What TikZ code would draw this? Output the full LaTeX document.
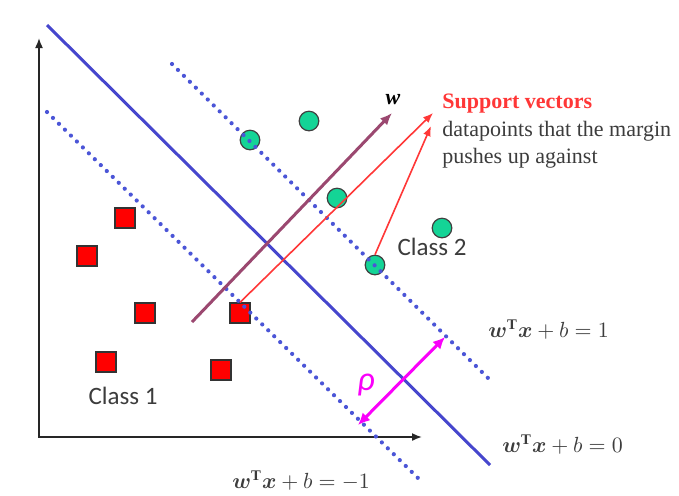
\documentclass[tikz,border=0pt]{standalone}
\usepackage{fontspec}
\usepackage{bm}
\setmainfont{Liberation Serif}
\newfontfamily\calibrifont{Carlito}
\usetikzlibrary{arrows.meta, positioning}

\definecolor{planeblue}{RGB}{70,70,205}
\definecolor{dotblue}{RGB}{75,85,215}
\definecolor{classtwogreen}{RGB}{20,212,150}
\definecolor{wpurple}{RGB}{155,72,112}
\definecolor{svred}{RGB}{255,55,55}
\definecolor{labelgray}{RGB}{60,60,60}
\definecolor{rhomagenta}{RGB}{250,0,250}

\tikzset{
  classone/.style={rectangle, draw=black!80, fill=red, minimum size=10pt, inner sep=0pt, line width=0.6pt},
  classtwo/.style={circle, draw=black!75, fill=classtwogreen, minimum size=9.8pt, inner sep=0pt, line width=0.6pt},
  plane/.style={planeblue, line width=1.5pt},
  margin/.style={dotblue, line width=2.1pt, line cap=round, dash pattern=on 0pt off 4.2pt},
  classlab/.style={font=\calibrifont\fontsize{12.5}{14}\selectfont, text=labelgray, inner sep=0pt},
  eqlab/.style={font=\fontsize{10.5}{12}\selectfont, text=labelgray, inner sep=0pt, anchor=base west}
}

\begin{document}
\begin{tikzpicture}[x=0.5pt, y=-0.5pt]
\fill [white] (0,0) rectangle (679,495);

% axes
\coordinate (org) at (39,437);
\coordinate (ytop) at (39,38);
\coordinate (xend) at (422,437);
\draw [black!85, line width=0.8pt, {Latex[length=5pt,width=4pt]}-{Latex[length=5pt,width=4pt]}] (ytop) -- (org) -- (xend);

% class 1
\node (sq1) at (125,218) [classone] {};
\node (sq2) at (87,256) [classone] {};
\node (sq3) at (145,313) [classone] {};
\node (sq4) at (240,313) [classone] {};
\node (sq5) at (106,362) [classone] {};
\node (sq6) at (221,370) [classone] {};
\node (cone) at (123,396) [classlab] {Class 1};

% class 2
\node (ci1) at (250,140) [classtwo] {};
\node (ci2) at (309,121) [classtwo] {};
\node (ci3) at (337,198) [classtwo] {};
\node (ci4) at (375,265) [classtwo] {};
\node (ci5) at (442,228) [classtwo] {};
\node (ctwo) at (432,247) [classlab] {Class 2};

% hyperplane and margins
\coordinate (hpa) at (47,25);
\coordinate (hpb) at (490,465);
\coordinate (upa) at (172,64);
\coordinate (upb) at (490,380);
\coordinate (loa) at (47,112);
\coordinate (lob) at (422,482);
\draw [plane] (hpa) -- (hpb);
\draw [margin] (upa) -- (upb);
\draw [margin] (loa) -- (lob);

% normal vector w
\coordinate (wtail) at (192,322);
\coordinate (wtip) at (392,113);
\draw [wpurple, line width=1.5pt, -{Latex[length=6pt,width=5pt]}] (wtail) -- (wtip);
\node (wlab) at (393,100) [font=\fontsize{11}{13}\selectfont\bfseries\itshape, inner sep=0pt] {w};

% support vectors
\coordinate (svtipa) at (433,113);
\coordinate (svtipb) at (431,126);
\draw [svred, line width=0.8pt, -{Latex[length=5pt,width=4pt]}] (sq4.north) -- (svtipa);
\draw [svred, line width=0.8pt, -{Latex[length=5pt,width=4pt]}] (ci4.north) -- (svtipb);
\node (svhead) at (442,108) [anchor=base west, inner sep=0pt, font=\fontsize{11}{13}\selectfont\bfseries, text=svred] {Support vectors};
\node (svline1) at (442,136) [anchor=base west, inner sep=0pt, font=\fontsize{11}{13}\selectfont, text=labelgray] {datapoints that the margin};
\node (svline2) at (442,163) [anchor=base west, inner sep=0pt, font=\fontsize{11}{13}\selectfont, text=labelgray] {pushes up against};

% margin width
\coordinate (rhoa) at (358,425);
\coordinate (rhob) at (445,337);
\draw [rhomagenta, line width=1.5pt, {Latex[length=6pt,width=5.5pt]}-{Latex[length=6pt,width=5.5pt]}] (rhoa) -- (rhob);
\node (rho) at (366,385) [font=\calibrifont\itshape\fontsize{17}{19}\selectfont, text=rhomagenta, inner sep=0pt] {ρ};

% plane equations
\node (eqone) at (488,337) [eqlab] {$\bm{w}^{\mathbf{T}}\bm{x}+b=1$};
\node (eqzero) at (502,452) [eqlab] {$\bm{w}^{\mathbf{T}}\bm{x}+b=0$};
\node (eqminus) at (232,488) [eqlab] {$\bm{w}^{\mathbf{T}}\bm{x}+b=-1$};
\end{tikzpicture}
\end{document}
